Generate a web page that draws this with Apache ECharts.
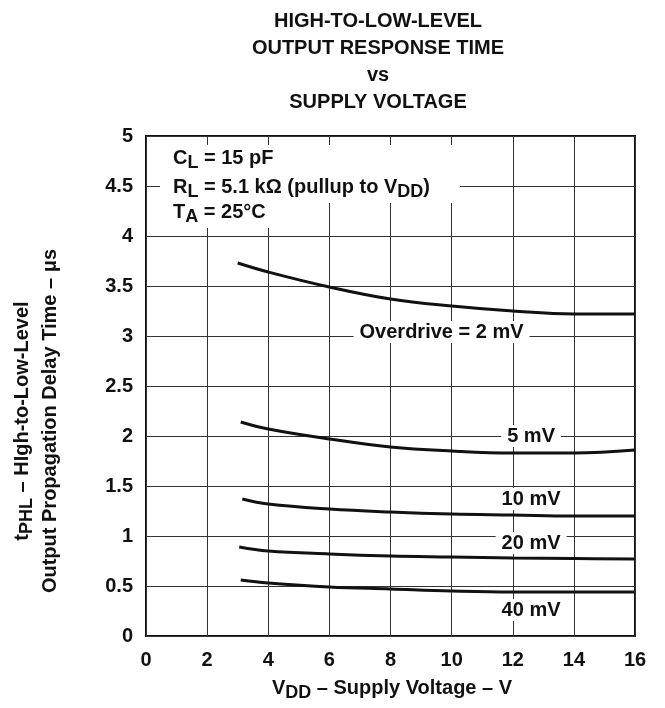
<!DOCTYPE html>
<html>
<head>
<meta charset="utf-8">
<script src="https://cdn.jsdelivr.net/npm/echarts@6/dist/echarts.min.js"></script>
<style>html,body{margin:0;padding:0;background:#fff}#c{width:665px;height:708px}</style>
</head>
<body>
<div id="c"></div>
<script>
var xTicks = [0, 2, 4, 6, 8, 10, 12, 14, 16];
var yTicks = [0, 0.5, 1, 1.5, 2, 2.5, 3, 3.5, 4, 4.5, 5];

var v2mV  = [[3.0, 3.73], [4, 3.64], [6, 3.49], [8, 3.37], [10, 3.30], [12, 3.25], [14, 3.22], [16, 3.22]];
var v5mV  = [[3.1, 2.14], [4, 2.07], [6, 1.97], [8, 1.89], [10, 1.85], [12, 1.83], [14, 1.83], [16, 1.86]];
var v10mV = [[3.15, 1.37], [4, 1.32], [6, 1.27], [8, 1.24], [10, 1.22], [12, 1.21], [14, 1.20], [16, 1.20]];
var v20mV = [[3.05, 0.89], [4, 0.85], [6, 0.82], [8, 0.80], [10, 0.79], [12, 0.78], [14, 0.775], [16, 0.77]];
var v40mV = [[3.1, 0.56], [4, 0.53], [6, 0.49], [8, 0.47], [10, 0.45], [12, 0.44], [14, 0.44], [16, 0.44]];

var seriesNames = ['Overdrive = 2 mV', '5 mV', '10 mV', '20 mV', '40 mV'];
var labelPos = [[9.67, 3.04], [12.6, 2.0], [12.6, 1.37], [12.6, 0.93], [12.6, 0.26]];
var allData = [v2mV, v5mV, v10mV, v20mV, v40mV];

var FF = '"Liberation Sans", Arial, Helvetica, sans-serif';
var FS = 20;
var chart = echarts.init(document.getElementById('c'));

var series = allData.map(function (d, i) {
  return {
    type: 'line',
    name: seriesNames[i],
    data: d,
    smooth: 0.4,
    symbol: 'none',
    lineStyle: { color: '#111', width: 3 },
    z: 3,
    markPoint: {
      symbol: 'circle',
      symbolSize: 0,
      data: [{ coord: labelPos[i] }],
      label: {
        show: true,
        position: 'inside',
        formatter: seriesNames[i],
        color: '#111',
        fontFamily: FF,
        fontWeight: 'bold',
        fontSize: FS,
        backgroundColor: '#fff',
        padding: [1, 6, 1, 6]
      }
    }
  };
});

var rb = { fontFamily: FF, fontWeight: 'bold', fontSize: FS, lineHeight: 22, verticalAlign: 'top', fill: '#111', color: '#111' };
var rs = { fontFamily: FF, fontWeight: 'bold', fontSize: 18, lineHeight: 22, verticalAlign: 'top', padding: [6, 0, 0, 0], fill: '#111', color: '#111' };

chart.setOption({
  animation: false,
  backgroundColor: '#fff',
  title: {
    text: 'HIGH-TO-LOW-LEVEL\nOUTPUT RESPONSE TIME\nvs\nSUPPLY VOLTAGE',
    left: 373,
    top: 3,
    textAlign: 'center',
    textStyle: { fontFamily: FF, fontWeight: 'bold', fontSize: FS, lineHeight: 27, color: '#111' }
  },
  grid: { left: 146, right: 30, top: 136, bottom: 72, show: true, borderColor: '#111', borderWidth: 2, backgroundColor: 'transparent' },
  xAxis: {
    type: 'value', min: 0, max: 16, interval: 2,
    axisLine: { show: false }, axisTick: { show: false },
    splitLine: { show: true, lineStyle: { color: '#333', width: 1 } },
    axisLabel: { margin: 14, fontFamily: FF, fontWeight: 'bold', fontSize: FS, color: '#111', formatter: function (v) { return xTicks.indexOf(v) >= 0 ? String(v) : ''; } }
  },
  yAxis: {
    type: 'value', min: 0, max: 5, interval: 0.5,
    axisLine: { show: false }, axisTick: { show: false },
    splitLine: { show: true, lineStyle: { color: '#333', width: 1 } },
    axisLabel: { margin: 13, fontFamily: FF, fontWeight: 'bold', fontSize: FS, color: '#111', formatter: function (v) { return yTicks.indexOf(v) >= 0 ? String(v) : ''; } }
  },
  series: series,
  graphic: [
    { type: 'rect', shape: { x: 160, y: 145, width: 300, height: 58 }, style: { fill: '#fff' }, z: 10 },
    { type: 'rect', shape: { x: 160, y: 200, width: 145, height: 28 }, style: { fill: '#fff' }, z: 10 },
    { type: 'text', x: 173, y: 148, z: 11, style: { text: '{b|C}{s|L}{b| = 15 pF}', verticalAlign: 'top', rich: { b: rb, s: rs } } },
    { type: 'text', x: 173, y: 177, z: 11, style: { text: '{b|R}{s|L}{b| = 5.1 kΩ (pullup to V}{s|DD}{b|)}', verticalAlign: 'top', rich: { b: rb, s: rs } } },
    { type: 'text', x: 173, y: 202, z: 11, style: { text: '{b|T}{s|A}{b| = 25°C}', verticalAlign: 'top', rich: { b: rb, s: rs } } },
    { type: 'text', x: 392, y: 678, z: 11, style: { text: '{b|V}{s|DD}{b| – Supply Voltage – V}', align: 'center', verticalAlign: 'top', rich: { b: rb, s: rs } } },
    { type: 'text', x: 12, y: 421, rotation: Math.PI / 2, z: 11, style: { text: '{b|t}{s|PHL}{b| – HIgh-to-Low-Level}', align: 'center', verticalAlign: 'top', rich: { b: rb, s: rs } } },
    { type: 'text', x: 40, y: 421, rotation: Math.PI / 2, z: 11, style: { text: '{b|Output Propagation Delay Time – μs}', align: 'center', verticalAlign: 'top', rich: { b: rb, s: rs } } }
  ]
});
</script>
</body>
</html>
